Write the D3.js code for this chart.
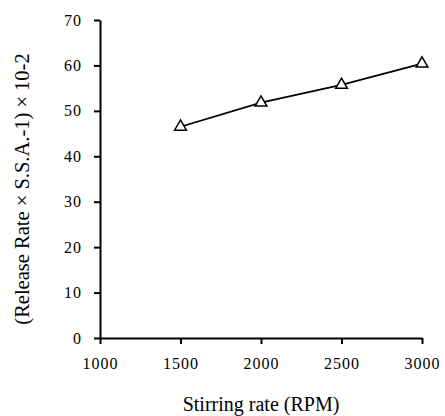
<!DOCTYPE html>
<html lang="en">
<head>
<meta charset="UTF-8">
<title>Release rate vs stirring rate</title>
<script src="https://cdn.jsdelivr.net/npm/d3@7"></script>
<style>
  body { margin: 0; background: #fff; }
  svg text { font-family: "Liberation Serif", "Times New Roman", serif; fill: #000; }
</style>
</head>
<body>
<script>
const rpm = [1500, 2000, 2500, 3000]
const releaseRate = [46.5, 51.8, 55.7, 60.4]
const xTicks = [1000, 1500, 2000, 2500, 3000]
const yTicks = [0, 10, 20, 30, 40, 50, 60, 70]

const width = 445
const height = 416
const margin = { top: 20, right: 23, bottom: 78, left: 100 }

const svg = d3.select('body').append('svg')
    .attr('width', width)
    .attr('height', height)

const x = d3.scaleLinear().domain([1000, 3000]).range([margin.left, width - margin.right])
const y = d3.scaleLinear().domain([0, 70]).range([height - margin.bottom, margin.top])

const xAxis = svg.append('g')
    .attr('transform', `translate(0,${height - margin.bottom})`)
    .call(d3.axisBottom(x).tickValues(xTicks).tickFormat(d3.format('d')).tickSize(6).tickSizeOuter(0).tickPadding(14))
xAxis.selectAll('text').style('font-size', '16px').style('letter-spacing', '1px')

const yAxis = svg.append('g')
    .attr('transform', `translate(${margin.left},0)`)
    .call(d3.axisLeft(y).tickValues(yTicks).tickSize(6).tickSizeOuter(0).tickPadding(12))
yAxis.selectAll('text').style('font-size', '16px').style('letter-spacing', '1px')

svg.selectAll('.domain').attr('stroke', '#000').attr('stroke-width', 2)
svg.selectAll('.tick line').attr('stroke', '#000').attr('stroke-width', 2)

svg.append('text')
    .attr('x', (margin.left + width - margin.right) / 2)
    .attr('y', 411)
    .attr('text-anchor', 'middle')
    .style('font-size', '20px')
    .text('Stirring rate (RPM)')

svg.append('text')
    .attr('transform', `translate(29,189) rotate(-90)`)
    .attr('text-anchor', 'middle')
    .style('font-size', '20.5px')
    .text('(Release Rate × S.S.A.-1) × 10-2')

const pts = rpm.map((r, i) => [r, releaseRate[i]])

svg.append('path')
    .datum(pts)
    .attr('fill', 'none')
    .attr('stroke', '#000')
    .attr('stroke-width', 1.8)
    .attr('d', d3.line().x(d => x(d[0])).y(d => y(d[1])))

svg.selectAll('.marker')
    .data(pts)
    .enter()
    .append('path')
    .attr('class', 'marker')
    .attr('transform', d => `translate(${x(d[0])},${y(d[1])})`)
    .attr('d', d3.symbol().type(d3.symbolTriangle).size(60))
    .attr('fill', '#fff')
    .attr('stroke', '#000')
    .attr('stroke-width', 1.5)
</script>
</body>
</html>
